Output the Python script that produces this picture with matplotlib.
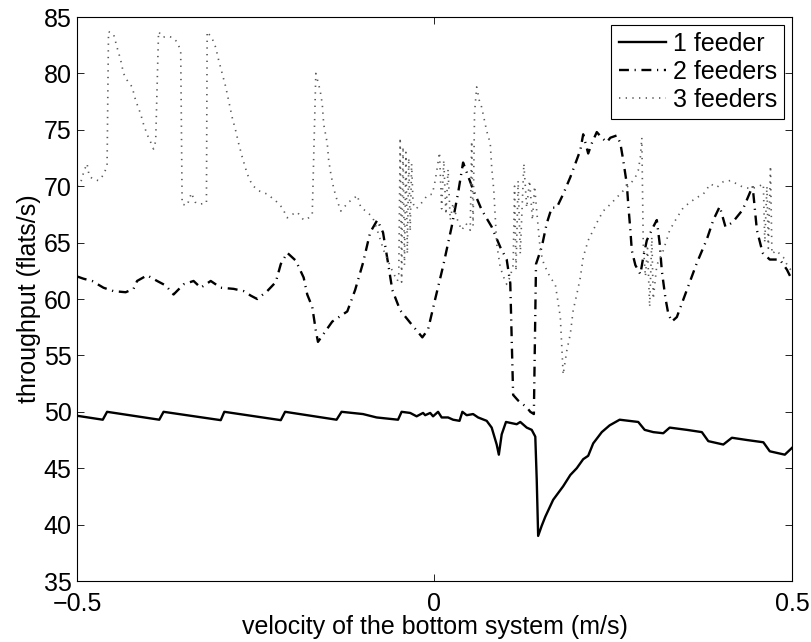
import matplotlib
matplotlib.use('Agg')
import matplotlib.pyplot as plt

plt.rcParams['font.family'] = ['Liberation Sans', 'DejaVu Sans']

# ── DATA
v1 = [-0.5, -0.464, -0.458, -0.385, -0.379, -0.299, -0.294, -0.215, -0.209,
      -0.137, -0.130, -0.100, -0.081, -0.051, -0.046, -0.034, -0.025, -0.016,
      -0.013, -0.006, -0.002, 0.005, 0.010, 0.019, 0.026, 0.035, 0.039, 0.045,
      0.054, 0.061, 0.073, 0.080, 0.087, 0.090, 0.094, 0.100, 0.115, 0.120,
      0.129, 0.136, 0.141, 0.143, 0.145, 0.150, 0.155, 0.166, 0.180, 0.190,
      0.199, 0.208, 0.215, 0.222, 0.234, 0.245, 0.259, 0.285, 0.294, 0.306,
      0.320, 0.329, 0.353, 0.374, 0.383, 0.390, 0.404, 0.416, 0.437, 0.460,
      0.469, 0.490, 0.5]
t1 = [49.65, 49.3, 50.0, 49.3, 50.0, 49.26, 50.0, 49.26, 50.0,
      49.3, 50.0, 49.8, 49.5, 49.3, 50.0, 49.9, 49.6, 49.9,
      49.7, 49.9, 49.6, 50.0, 49.5, 49.5, 49.3, 49.2, 50.0, 49.7,
      49.8, 49.5, 49.2, 48.6, 47.1, 46.2, 48.0, 49.1, 48.9, 49.1,
      48.6, 48.4, 47.8, 44.0, 39.0, 39.9, 40.7, 42.2, 43.4, 44.4,
      45.0, 45.8, 46.1, 47.2, 48.2, 48.8, 49.3, 49.1, 48.4, 48.2,
      48.1, 48.6, 48.4, 48.2, 47.4, 47.3, 47.1, 47.7, 47.5, 47.3,
      46.5, 46.2, 46.8]

v2 = [-0.5, -0.491, -0.479, -0.463, -0.449, -0.432, -0.421, -0.416, -0.402,
      -0.388, -0.376, -0.365, -0.351, -0.337, -0.327, -0.313, -0.299, -0.281,
      -0.267, -0.257, -0.248, -0.234, -0.222, -0.215, -0.206, -0.194, -0.183,
      -0.178, -0.171, -0.166, -0.163, -0.143, -0.122, -0.111, -0.100, -0.090,
      -0.080, -0.072, -0.065, -0.059, -0.048, -0.034, -0.017, -0.009, 0.001,
      0.012, 0.024, 0.033, 0.040, 0.054, 0.066, 0.080, 0.092, 0.101, 0.106,
      0.110, 0.117, 0.129, 0.134, 0.139, 0.142, 0.150, 0.157, 0.164, 0.171,
      0.180, 0.190, 0.197, 0.204, 0.208, 0.215, 0.220, 0.227, 0.234, 0.241,
      0.246, 0.255, 0.260, 0.264, 0.269, 0.271, 0.274, 0.276, 0.281, 0.288,
      0.292, 0.297, 0.306, 0.311, 0.315, 0.318, 0.323, 0.327, 0.332, 0.339,
      0.353, 0.367, 0.381, 0.390, 0.399, 0.407, 0.417, 0.431, 0.441, 0.445,
      0.451, 0.459, 0.469, 0.483, 0.493, 0.5]
t2 = [62.0, 61.8, 61.6, 61.0, 60.7, 60.6, 60.9, 61.6, 62.1,
      61.6, 61.2, 60.4, 61.3, 61.6, 61.0, 61.6, 61.0, 60.9,
      60.7, 60.3, 60.0, 60.7, 61.5, 63.1, 64.1, 63.4, 61.9,
      60.4, 59.3, 57.2, 56.2, 58.0, 58.9, 60.8, 63.2, 65.9,
      67.0, 65.9, 63.2, 60.8, 59.0, 57.9, 56.6, 57.3, 60.0,
      62.9, 66.4, 69.4, 72.1, 69.7, 67.9, 66.4, 64.6, 63.5, 61.4,
      51.5, 51.0, 50.4, 50.0, 49.8, 63.1, 64.6, 66.7, 68.1, 68.1,
      69.3, 70.8, 72.0, 73.2, 74.6, 72.9, 73.8, 74.8, 74.3, 73.9,
      74.3, 74.5, 73.8, 72.3, 70.2, 68.4, 66.1, 64.3, 63.0, 62.2,
      63.7, 65.2, 66.4, 67.0, 64.9, 62.5, 60.1, 58.7, 58.0, 58.4,
      60.8, 63.2, 65.3, 67.0, 68.2, 66.4, 66.8, 67.9, 69.4, 70.0,
      66.1, 64.1, 63.5, 63.5, 62.6, 61.7]

v3 = [-0.5, -0.495, -0.49, -0.486, -0.483, -0.477, -0.470, -0.463, -0.458,
      -0.456, -0.449, -0.444, -0.439, -0.435, -0.430, -0.423, -0.418, -0.411,
      -0.407, -0.402, -0.397, -0.393, -0.390, -0.386, -0.380, -0.374, -0.367,
      -0.360, -0.355, -0.353, -0.346, -0.340, -0.335, -0.330, -0.319, -0.318,
      -0.311, -0.306, -0.302, -0.297, -0.292, -0.288, -0.283, -0.278, -0.274,
      -0.269, -0.262, -0.255, -0.246, -0.234, -0.222, -0.213, -0.206, -0.199,
      -0.192, -0.183, -0.176, -0.171, -0.166, -0.160, -0.157, -0.155, -0.150,
      -0.148, -0.145, -0.141, -0.136, -0.131, -0.127, -0.120, -0.113, -0.108,
      -0.103, -0.096, -0.089, -0.085, -0.080, -0.071, -0.059, -0.052, -0.050,
      -0.048, -0.046, -0.044, -0.042, -0.040, -0.038, -0.036, -0.034, -0.032,
      -0.030, -0.027, -0.024, -0.017, -0.010, -0.003, 0.001, 0.004, 0.007,
      0.010, 0.013, 0.016, 0.019, 0.022, 0.026, 0.031, 0.038, 0.044, 0.050,
      0.052, 0.054, 0.056, 0.059, 0.063, 0.066, 0.073, 0.078, 0.080, 0.083,
      0.085, 0.087, 0.092, 0.097, 0.101, 0.106, 0.110, 0.112, 0.114, 0.117,
      0.120, 0.125, 0.129, 0.133, 0.137, 0.140, 0.143, 0.148, 0.153, 0.162,
      0.169, 0.176, 0.180, 0.185, 0.190, 0.194, 0.199, 0.204, 0.208, 0.215,
      0.222, 0.229, 0.236, 0.246, 0.255, 0.264, 0.274, 0.281, 0.285, 0.288,
      0.290, 0.292, 0.295, 0.298, 0.301, 0.304, 0.306, 0.311, 0.320, 0.329,
      0.339, 0.348, 0.358, 0.367, 0.376, 0.386, 0.395, 0.404, 0.414, 0.423,
      0.432, 0.442, 0.451, 0.460, 0.462, 0.465, 0.467, 0.470, 0.472, 0.478,
      0.488, 0.495, 0.5]
t3 = [70.0, 70.3, 71.4, 72.0, 70.9, 70.6, 70.5, 71.0, 71.8,
      83.7, 83.5, 82.3, 81.2, 80.0, 79.4, 78.8, 77.6, 76.4,
      75.5, 74.6, 73.9, 73.3, 74.0, 83.7, 83.2, 83.3, 83.2,
      82.8, 82.0, 68.4, 68.3, 69.4, 68.6, 68.4, 68.5, 83.7,
      83.1, 82.3, 81.2, 80.0, 78.8, 77.6, 76.1, 74.9, 73.8,
      72.6, 71.1, 70.1, 69.6, 69.3, 68.7, 68.1, 67.2, 67.5,
      67.7, 67.0, 67.2, 67.5, 80.0, 78.5, 77.3, 75.5, 73.8,
      72.3, 71.1, 69.8, 68.7, 67.8, 68.1, 68.6, 68.9, 69.2,
      68.1, 67.8, 67.4, 67.0, 66.1, 64.3, 62.5, 61.6, 62.0,
      74.3, 61.5, 73.5, 63.0, 73.0, 64.0, 72.5, 66.0, 72.0,
      68.5, 68.0, 68.1, 68.6, 69.2, 69.3, 70.5, 71.7, 73.0,
      68.0, 72.3, 67.5, 71.5, 67.0, 68.5, 67.2, 66.1, 66.7, 66.1,
      74.0, 66.5, 76.5, 78.8, 77.5, 77.0, 74.9, 73.8, 71.7, 69.6,
      67.2, 64.9, 62.8, 61.9, 61.3, 62.0, 63.0, 70.0, 62.5, 70.5,
      64.0, 72.0, 68.1, 70.5, 67.0, 70.0, 67.8, 64.3, 63.1, 61.9,
      61.3, 58.4, 53.3, 55.4, 56.9, 59.0, 60.4, 61.9, 63.7, 65.2,
      66.1, 67.0, 67.8, 68.4, 69.0, 69.6, 70.2, 70.8, 71.4, 72.6,
      74.3, 64.9, 62.0, 64.5, 59.3, 65.5, 60.0, 63.0, 64.3, 66.1,
      67.2, 68.1, 68.6, 69.0, 69.3, 70.2, 69.9, 70.4, 70.5, 70.2,
      69.9, 69.8, 69.9, 70.2, 65.0, 70.0, 64.5, 71.8, 64.0, 64.3,
      63.7, 62.8, 62.5]

# ── PLOT
fig = plt.figure(figsize=(8.11, 6.42), dpi=100)
ax = fig.add_axes([0.095, 0.095, 0.8815, 0.8785])

ax.plot(v1, t1, color='black', lw=1.7, label='1 feeder')
l2, = ax.plot(v2, t2, color='black', lw=1.7, label='2 feeders')
l2.set_dashes([4.2, 2.4, 0.5, 2.4])
ax.plot(v3, t3, color='0.35', lw=1.2, linestyle=(0, (0.8, 3.2)),
        dash_capstyle='butt', label='3 feeders')

ax.set_xlim(-0.5, 0.5)
ax.set_ylim(35, 85)
ax.set_xticks([-0.5, 0, 0.5])
ax.set_xticklabels(['\u22120.5', '0', '0.5'])
ax.set_yticks(range(35, 90, 5))
ax.tick_params(direction='in', length=5, width=0.6, top=True, right=True,
               labelsize=18)
ax.tick_params(axis='x', pad=8)
ax.tick_params(axis='y', pad=4)
for s in ax.spines.values():
    s.set_linewidth(0.8)

ax.set_xlabel('velocity of the bottom system (m/s)', fontsize=18, labelpad=-1)
ax.set_ylabel('throughput (flats/s)', fontsize=18, labelpad=2)

leg = ax.legend(loc='upper right', fontsize=18, fancybox=False, framealpha=1,
                edgecolor='black', handlelength=1.9, handletextpad=0.25,
                borderpad=0.3, labelspacing=0.15, borderaxespad=0.3)
leg.get_frame().set_linewidth(0.8)

plt.savefig('out.png', dpi=100)
plt.close()
